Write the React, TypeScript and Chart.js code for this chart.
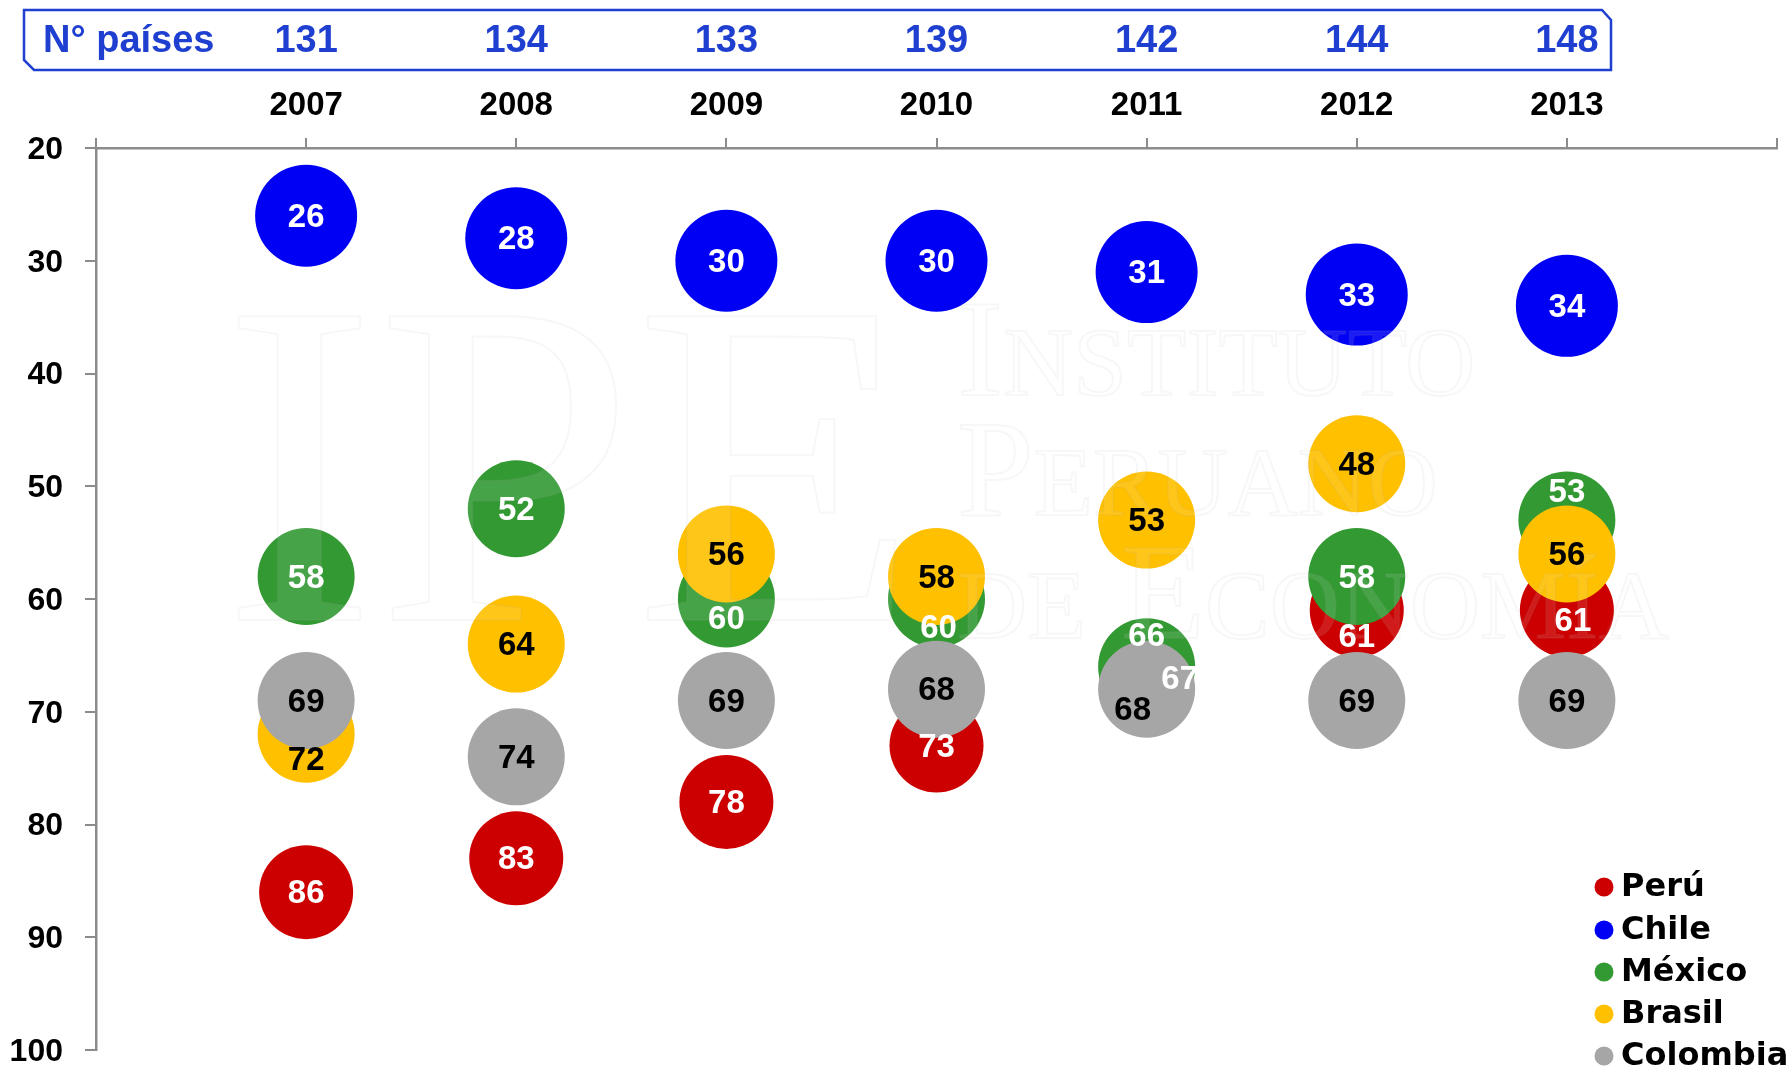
import React, { useEffect, useRef } from "react";
import { Chart, registerables } from "chart.js";

Chart.register(...registerables);

// ---- data ----
const years = [2007, 2008, 2009, 2010, 2011, 2012, 2013];
const countryCounts = [131, 134, 133, 139, 142, 144, 148];
const peru = [86, 83, 78, 73, 67, 61, 61];
const chile = [26, 28, 30, 30, 31, 33, 34];
const mexico = [58, 52, 60, 60, 66, 58, 53];
const brasil = [72, 64, 56, 58, 53, 48, 56];
const colombia = [69, 74, 69, 68, 68, 69, 69];
const seriesNames = ["Perú", "Chile", "México", "Brasil", "Colombia"];

// ---- styles ----
const colors = ["#cc0000", "#0000f5", "#339933", "#ffc000", "#a6a6a6"];
const textColors = ["#ffffff", "#ffffff", "#ffffff", "#000000", "#000000"];
const radii = [47, 51, 48.5, 48.5, 48.5];
const drawOrder = [4, 3, 2, 1, 0];
// label offsets (px) where bubbles overlap
const labelOffsets = [
  [[0, 0], [0, 0], [0, 0], [0, 0], [33, 0], [0, 26], [6, 10]],
  [[0, 0], [0, 0], [0, 0], [0, 0], [0, 0], [0, 0], [0, 0]],
  [[0, 0], [0, 0], [0, 19], [2, 28], [0, -32], [0, 0], [0, -29]],
  [[0, 25], [0, 0], [0, 0], [0, 0], [0, 0], [0, 0], [0, 0]],
  [[0, 0], [0, 0], [0, 0], [0, 0], [-14, 20], [0, 0], [0, 0]],
];

const BLUE = "#1f3fd0";
const AXIS = "#8c8c8c";

function drawWatermarkText(ctx: any, text: string, x: number, y: number) {
  ctx.fillText(text, x, y);
  ctx.strokeText(text, x, y);
}

const watermarkPlugin = {
  id: "watermark",
  afterDatasetsDraw(chart: any) {
    const ctx = chart.ctx;
    ctx.save();
    ctx.fillStyle = "rgba(255,255,255,0.1)";
    ctx.strokeStyle = "rgba(170,170,170,0.09)";
    ctx.lineWidth = 2;
    ctx.textAlign = "left";
    ctx.textBaseline = "alphabetic";
    ctx.font = '464px "Liberation Serif"';
    drawWatermarkText(ctx, "IPE", 222, 620);
    ctx.font = 'small-caps 138px "Liberation Serif"';
    drawWatermarkText(ctx, "Instituto", 957, 395);
    drawWatermarkText(ctx, "Peruano", 957, 515);
    drawWatermarkText(ctx, "de Economía", 957, 638);
    ctx.restore();
  },
};

const labelsPlugin = {
  id: "bubbleLabels",
  afterDatasetsDraw(chart: any) {
    const ctx = chart.ctx;
    ctx.save();
    ctx.font = 'bold 33px "Liberation Sans"';
    ctx.textAlign = "center";
    ctx.textBaseline = "middle";
    chart.data.datasets.forEach((ds: any, di: number) => {
      const meta = chart.getDatasetMeta(di);
      meta.data.forEach((el: any, i: number) => {
        const off = labelOffsets[di][i];
        ctx.fillStyle = textColors[di];
        ctx.fillText(String(ds.data[i].y), el.x + off[0], el.y + off[1] + 2);
      });
    });
    ctx.restore();
  },
};

const bannerLegendPlugin = {
  id: "bannerLegend",
  afterDraw(chart: any) {
    const ctx = chart.ctx;
    const xs = chart.scales.x;
    ctx.save();
    // banner box
    ctx.strokeStyle = BLUE;
    ctx.lineWidth = 2.5;
    ctx.beginPath();
    ctx.moveTo(24, 10);
    ctx.lineTo(1602, 10);
    ctx.lineTo(1611, 20);
    ctx.lineTo(1611, 70);
    ctx.lineTo(34, 70);
    ctx.lineTo(24, 60);
    ctx.closePath();
    ctx.stroke();
    ctx.fillStyle = BLUE;
    ctx.font = 'bold 38px "Liberation Sans"';
    ctx.textBaseline = "middle";
    ctx.textAlign = "left";
    ctx.fillText("N° países", 43, 42);
    ctx.textAlign = "center";
    years.forEach((yr, i) => {
      ctx.fillText(String(countryCounts[i]), xs.getPixelForValue(yr), 42);
    });
    // legend
    const rows = [887, 930, 972, 1014, 1056];
    ctx.font = 'bold 32px "DejaVu Sans"';
    ctx.textAlign = "left";
    seriesNames.forEach((name, i) => {
      ctx.fillStyle = colors[i];
      ctx.beginPath();
      ctx.arc(1604, rows[i], 9.5, 0, Math.PI * 2);
      ctx.fill();
      ctx.fillStyle = "#000000";
      ctx.fillText(name, 1621, rows[i] + 1);
    });
    ctx.restore();
  },
};

export default function App() {
  const ref = useRef<HTMLCanvasElement | null>(null);
  useEffect(() => {
    document.body.style.margin = "0";
    const allSeries = [peru, chile, mexico, brasil, colombia];
    const datasets = allSeries.map((vals, si) => ({
      label: seriesNames[si],
      data: vals.map((v, i) => ({ x: years[i], y: v })),
      backgroundColor: colors[si],
      borderWidth: 0,
      radius: radii[si],
      hoverRadius: 0,
      order: drawOrder[si],
    }));
    const chart = new Chart(ref.current as HTMLCanvasElement, {
      type: "bubble",
      data: { datasets },
      plugins: [watermarkPlugin, labelsPlugin, bannerLegendPlugin],
      options: {
        animation: false,
        responsive: false,
        events: [],
        layout: { autoPadding: false, padding: { left: 0, right: 14, top: 0, bottom: 21 } },
        plugins: { legend: { display: false }, tooltip: { enabled: false } },
        scales: {
          x: {
            type: "linear",
            position: "top",
            min: 2006,
            max: 2014,
            afterFit: (s: any) => {
              s.height = 148;
              s.paddingLeft = 0;
              s.paddingRight = 0;
            },
            ticks: {
              stepSize: 1,
              autoSkip: false,
              maxRotation: 0,
              padding: 12,
              color: "#000000",
              font: { family: "Liberation Sans", weight: "bold", size: 33 },
              callback: (v: any) => (v >= 2007 && v <= 2013 ? String(v) : ""),
            },
            grid: {
              drawOnChartArea: false,
              drawTicks: true,
              tickLength: 10,
              color: AXIS,
              lineWidth: 2,
            },
            border: { display: true, color: AXIS, width: 2.5 },
          },
          y: {
            type: "linear",
            reverse: true,
            min: 20,
            max: 100,
            afterFit: (s: any) => {
              s.width = 96;
              s.paddingTop = 0;
              s.paddingBottom = 0;
            },
            ticks: {
              stepSize: 10,
              padding: 22,
              labelOffset: 2,
              color: "#000000",
              font: { family: "Liberation Sans", weight: "bold", size: 32 },
            },
            grid: {
              drawOnChartArea: false,
              drawTicks: true,
              tickLength: 11,
              color: AXIS,
              lineWidth: 2,
            },
            border: { display: true, color: AXIS, width: 2.5 },
          },
        },
      } as any,
    });
    return () => chart.destroy();
  }, []);
  return (
    <div style={{ width: 1791, height: 1071, background: "#ffffff" }}>
      <canvas ref={ref} width={1791} height={1071} style={{ display: "block" }} />
    </div>
  );
}
